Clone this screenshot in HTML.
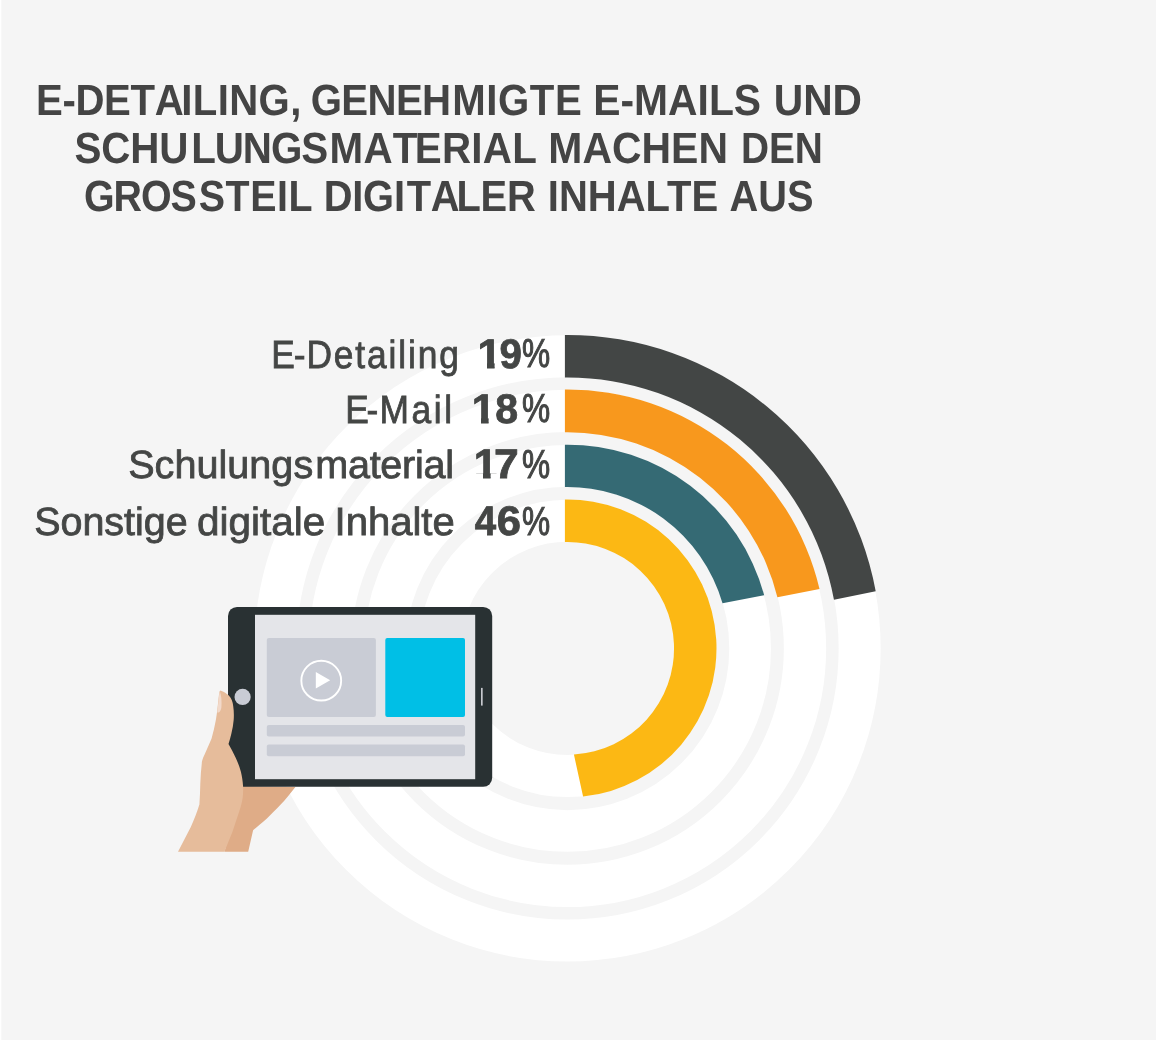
<!DOCTYPE html>
<html lang="de">
<head>
<meta charset="utf-8">
<title>E-Detailing, genehmigte E-Mails und Schulungsmaterial</title>
<style>
html,body{margin:0;padding:0;background:#fff;}
body{width:1156px;height:1040px;overflow:hidden;position:relative;}
svg{position:absolute;left:0;top:0;display:block;}
text{font-family:"Liberation Sans",sans-serif;fill:#444;text-rendering:geometricPrecision;}
.t{font-weight:700;}
.l{font-weight:400;fill:#444645;stroke:#444645;stroke-width:0.8px;}
.p{font-weight:400;fill:#444645;stroke:#444645;stroke-width:1.1px;}
.n{font-weight:700;fill:#444645;stroke:#444645;stroke-width:0.8px;}
</style>
</head>
<body>
<svg width="1156" height="1040" viewBox="0 0 1156 1040">
<rect x="1.3" y="0" width="1154.7" height="1040" fill="#f5f5f5"/>
<!-- rings -->
<circle cx="567.5" cy="648.4" r="292.15" fill="none" stroke="#fff" stroke-width="42.00"/>
<circle cx="567.5" cy="648.4" r="237.50" fill="none" stroke="#fff" stroke-width="42.30"/>
<circle cx="567.5" cy="648.4" r="182.60" fill="none" stroke="#fff" stroke-width="41.70"/>
<circle cx="567.5" cy="648.4" r="127.67" fill="none" stroke="#fff" stroke-width="42.05"/>
<path d="M564.90 334.96 A313.45 313.45 0 0 1 875.70 591.25 L833.96 599.84 A270.85 270.85 0 0 0 564.90 377.56 Z" fill="#434645"/>
<path d="M564.90 389.46 A258.95 258.95 0 0 1 819.52 588.88 L777.41 597.27 A216.05 216.05 0 0 0 564.90 432.37 Z" fill="#f8981d"/>
<path d="M564.90 444.67 A203.75 203.75 0 0 1 764.18 595.20 L722.51 603.26 A161.45 161.45 0 0 0 564.90 486.97 Z" fill="#356a74"/>
<path d="M564.90 499.42 A149.00 149.00 0 0 1 583.08 796.58 L573.93 754.56 A106.35 106.35 0 0 0 564.90 542.08 Z" fill="#fcb814"/>
<!-- text -->
<text id="t1a" class="t" transform="scale(0.9212 1)" x="39.06 67.76 81.87 112.98 141.69 167.94 196.71 209.21 236.25 248.75 280.66 315.01" y="115.00" font-size="43.6">E-DETAILING,</text>
<text id="t1b" class="t" transform="scale(0.9216 1)" x="337.19 370.41 398.79 429.57 457.94 490.68 527.65 540.34 574.90 602.15" y="115.00" font-size="43.6">GENEHMIGTE</text>
<text id="t1c" class="t" x="593.30" y="115.00" font-size="43.6" textLength="167.77" lengthAdjust="spacingAndGlyphs">E-MAILS</text>
<text id="t1d" class="t" x="773.73" y="115.00" font-size="43.6" textLength="88.27" lengthAdjust="spacingAndGlyphs">UND</text>
<text id="t2a" class="t" transform="scale(0.9257 1)" x="80.61 109.44 140.69 171.93 206.47 231.97 262.32 292.68 325.47 355.94 392.58 424.36 448.04 477.41 509.20 521.56 553.35" y="163.00" font-size="43.6">SCHULUNGSMATERIAL</text>
<text id="t2b" class="t" x="548.37" y="163.00" font-size="43.6" textLength="179.62" lengthAdjust="spacingAndGlyphs">MACHEN</text>
<text id="t2c" class="t" x="740.88" y="163.00" font-size="43.6" textLength="82.03" lengthAdjust="spacingAndGlyphs">DEN</text>
<text id="t3a" class="t" transform="scale(0.9030 1)" x="93.04 125.76 156.04 188.77 220.05 249.79 277.06 306.80 319.49" y="211.00" font-size="43.6">GROSSTEIL</text>
<text id="t3b" class="t" transform="scale(0.9143 1)" x="354.11 385.32 397.16 430.80 444.83 471.23 499.24 525.63 554.47" y="211.00" font-size="43.6">DIGITALER</text>
<text id="t3c" class="t" x="547.80" y="211.00" font-size="43.6" textLength="170.42" lengthAdjust="spacingAndGlyphs">INHALTE</text>
<text id="t3d" class="t" x="729.45" y="211.00" font-size="43.6" textLength="83.98" lengthAdjust="spacingAndGlyphs">AUS</text>
<text id="l1" class="l" transform="scale(0.9000 1)" x="301.49 326.50 340.47 370.92 394.84 407.81 431.72 442.51 453.29 464.07 487.99" y="368.00" font-size="39.25">E-Detailing</text>
<clipPath id="c1"><path d="M474.1 328.0 H555.4 V380.0 H501.4 V362.4 H494.6 V370.0 H487.0 V362.4 H474.1 Z"/></clipPath>
<text id="v1" clip-path="url(#c1)"><tspan id="n1a" class="n" x="477.64" y="368.00" font-size="41.3" textLength="23.98" lengthAdjust="spacingAndGlyphs">1</tspan><tspan id="n1b" class="n" x="499.59" y="368.00" font-size="41.3" textLength="22.40" lengthAdjust="spacingAndGlyphs">9</tspan><tspan id="p1" class="p" x="521.89" y="367.00" font-size="40.3" textLength="28.14" lengthAdjust="spacingAndGlyphs">%</tspan></text>
<text id="l2" class="l" transform="scale(0.9000 1)" x="383.72 407.25 421.54 457.23 482.04 493.74" y="423.00" font-size="39.25">E-Mail</text>
<clipPath id="c2"><path d="M468.3 383.3 H555.4 V435.3 H495.4 V417.7 H488.6 V425.3 H481.0 V417.7 H468.3 Z"/></clipPath>
<text id="v2" clip-path="url(#c2)"><tspan id="n2a" class="n" x="471.80" y="423.00" font-size="41.3" textLength="23.64" lengthAdjust="spacingAndGlyphs">1</tspan><tspan id="n2b" class="n" x="495.28" y="423.00" font-size="41.3" textLength="22.85" lengthAdjust="spacingAndGlyphs">8</tspan><tspan id="p2" class="p" x="521.89" y="422.00" font-size="40.3" textLength="28.14" lengthAdjust="spacingAndGlyphs">%</tspan></text>
<text id="l3" class="l" transform="scale(1.0076 1)" x="127.20 153.43 173.09 194.96 216.83 225.57 247.44 269.31 291.18 312.92 345.35 366.90 377.51 399.06 411.84 420.26 441.81" y="478.00" font-size="39.25">Schulungsmaterial</text>
<clipPath id="c3"><path d="M470.2 438.9 H555.4 V490.9 H497.4 V473.3 H490.6 V480.9 H483.0 V473.3 H470.2 Z"/></clipPath>
<text id="v3" clip-path="url(#c3)"><tspan id="n3a" class="n" x="473.70" y="478.00" font-size="41.3" textLength="23.72" lengthAdjust="spacingAndGlyphs">1</tspan><tspan id="n3b" class="n" x="493.95" y="478.00" font-size="41.3" textLength="24.75" lengthAdjust="spacingAndGlyphs">7</tspan><tspan id="p3" class="p" x="521.89" y="478.00" font-size="40.3" textLength="28.14" lengthAdjust="spacingAndGlyphs">%</tspan></text>
<text id="l4a" class="l" x="34.15" y="535.00" font-size="39.25" textLength="153.56" lengthAdjust="spacingAndGlyphs">Sonstige</text>
<text id="l4b" class="l" x="197.09" y="535.00" font-size="39.25" textLength="128.26" lengthAdjust="spacingAndGlyphs">digitale</text>
<text id="l4c" class="l" x="334.56" y="535.00" font-size="39.25" textLength="120.23" lengthAdjust="spacingAndGlyphs">Inhalte</text>
<text id="v4"><tspan id="n4a" class="n" x="474.65" y="535.00" font-size="41.3" textLength="21.40" lengthAdjust="spacingAndGlyphs">4</tspan><tspan id="n4b" class="n" x="496.71" y="535.00" font-size="41.3" textLength="24.22" lengthAdjust="spacingAndGlyphs">6</tspan><tspan id="p4" class="p" x="521.89" y="535.00" font-size="40.3" textLength="28.14" lengthAdjust="spacingAndGlyphs">%</tspan></text>
<!-- hand back -->
<path d="M243 786 L295.4 787 C290 794 285 800 280.7 804.6 C276 809.5 271 814.5 266.9 818.4 C262 822.5 257 827 253.1 830.2 L248.2 851.7 L224.4 851.7 Z" fill="#dfac87"/>
<!-- tablet -->
<rect x="228" y="606.9" width="264.2" height="179.9" rx="9" ry="9" fill="#293133"/>
<rect x="255" y="614.8" width="220.2" height="164.4" fill="#e4e5e9"/>
<rect x="266.8" y="637.9" width="109.1" height="79.2" rx="2" fill="#c9ccd5"/>
<rect x="385.3" y="637.9" width="79.7" height="79.2" rx="2" fill="#00bfe6"/>
<rect x="266.8" y="725" width="198.2" height="11.6" rx="2" fill="#c9ccd5"/>
<rect x="266.8" y="744.4" width="198.2" height="11.8" rx="2" fill="#c9ccd5"/>
<circle cx="321.25" cy="680.65" r="19.9" fill="none" stroke="#fff" stroke-width="1.9"/>
<path d="M315.8 671.9 L330.2 680.3 L315.8 688.6 Z" fill="#fff"/>
<circle cx="242.6" cy="696.9" r="8.1" fill="#c9ccd5"/>
<rect x="481.1" y="687.9" width="1.5" height="17.7" fill="#d9dbe0"/>
<!-- hand front -->
<path d="M220.2 690.4 C224 691.5 227 693.5 228.8 695.6 C231.5 698.5 232.8 702 233.2 706 C233.9 710.5 234 715 233.7 719.8 C233.3 724.5 232.5 729 231.4 733.6 C230.6 737 229.6 740.5 228.5 744 C231 748.5 233.5 753 235.8 757.9 C237.8 762.3 239.6 767 240.9 771.7 C242 776.3 242.8 781 243 785.6 C243.3 789.5 243.2 793.6 242.7 797.7 C242 802.3 240.7 807 239.2 811.5 L232.3 832.3 L224.4 851.7 L178.0 851.7 L190.8 827.1 C194 820 197 812.5 199.4 804.6 C199.9 797.7 200.1 790.7 200.3 783.8 C200.6 776.3 201.1 768.8 202 761.3 C202.6 758.8 203.5 756.6 204.6 754.4 L211.5 738.8 C213.3 732.5 214.8 726 215.9 719.8 C216.9 714 217.6 708.3 218.1 702.5 C218.5 699 218.9 695.5 219.3 692.1 Z" fill="#e6bc9b"/>
<path d="M219.7 690.9 C221.4 695 221.9 701 221.4 707.5 C221 709.5 220.3 711 219.4 712 C218.6 712.6 217.8 712.7 217.3 712.4 C218.1 705 218.8 697 219.7 690.9 Z" fill="#f2d9ca"/>
</svg>
</body>
</html>
